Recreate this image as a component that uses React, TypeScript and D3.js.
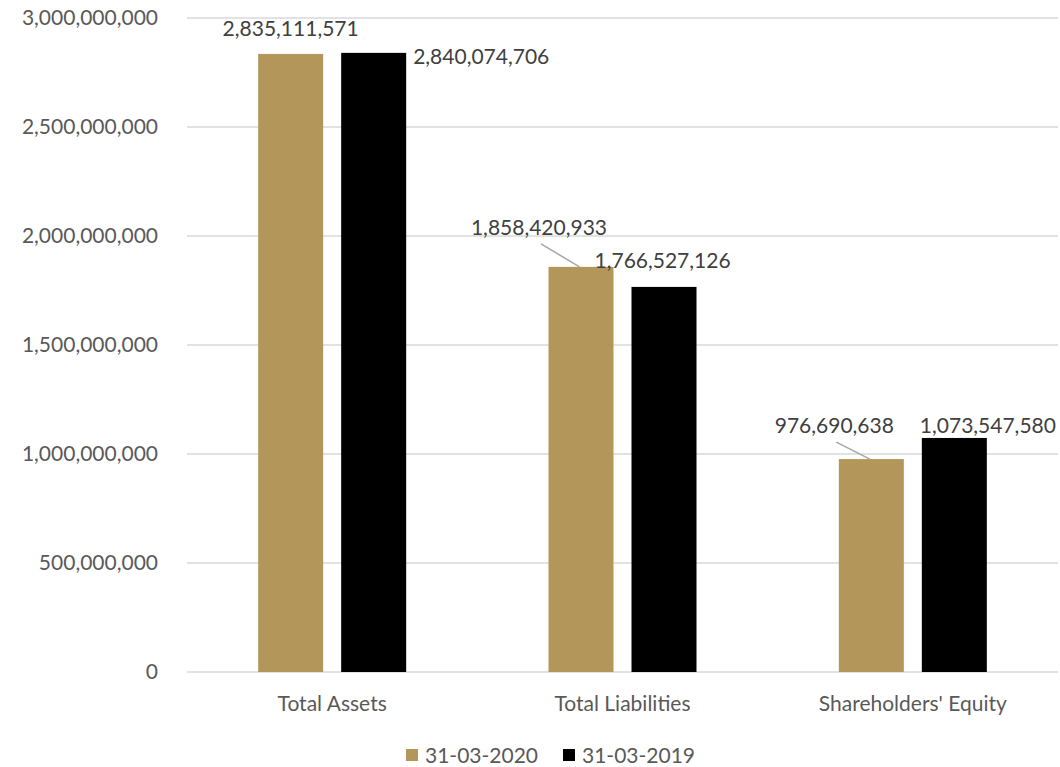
import React from "react";
import * as d3 from "d3";

const categories = ["Total Assets", "Total Liabilities", "Shareholders' Equity"];
const series = ["31-03-2020", "31-03-2019"];
const values2020 = [2835111571, 1858420933, 976690638];
const values2019 = [2840074706, 1766527126, 1073547580];
const yTicks = [0, 500000000, 1000000000, 1500000000, 2000000000, 2500000000, 3000000000];

const colors = ["#B3975A", "#000000"];
const textColor = "#595959";
const font = "Lato, 'Open Sans', sans-serif";
const fs = 21;

// label placement (baseline offsets in px relative to bar top / bar edges), mimicking manual Excel placements
const labelPlacement2020 = [
  { dx: 0, dy: -18, leader: false },
  { dx: -42, dy: -32, leader: true },
  { dx: -37, dy: -26, leader: true },
];
const labelPlacement2019 = [
  { dx: 72, dy: 11 },
  { dx: -37, dy: -19 },
  { dx: -2, dy: -5 },
];

export default function App() {
  const width = 1060;
  const height = 767;
  const left = 187;
  const right = 1058;
  const top = 18;
  const bottom = 672;

  const x = d3.scaleBand().domain(categories).range([left, right]).paddingInner(0).paddingOuter(0);
  const y = d3.scaleLinear().domain([0, 3000000000]).range([bottom, top]);
  const barW = 65;
  const gap = 18;
  const fmt = d3.format(",");

  return (
    <svg width={width} height={height} style={{ display: "block", position: "absolute", left: 0, top: 0 }}>
      <rect width={width} height={height} fill="#fff" />
      {yTicks.map((t) => (
        <g key={t}>
          <line x1={left} x2={right} y1={y(t)} y2={y(t)} stroke="#D9D9D9" strokeWidth={1.5} />
          <text x={158} y={y(t)} dy="0.35em" textAnchor="end" fontFamily={font} fontSize={fs} fill={textColor}>
            {fmt(t)}
          </text>
        </g>
      ))}
      {categories.map((c, i) => {
        const cx = (x(c) as number) + x.bandwidth() / 2;
        const x0 = cx - gap / 2 - barW;
        const x1 = cx + gap / 2;
        const y0 = y(values2020[i]);
        const y1 = y(values2019[i]);
        const p0 = labelPlacement2020[i];
        const p1 = labelPlacement2019[i];
        const lx0 = x0 + barW / 2 + p0.dx;
        const ly0 = y0 + p0.dy;
        return (
          <g key={c}>
            <rect x={x0} y={y0} width={barW} height={bottom - y0} fill={colors[0]} />
            <rect x={x1} y={y1} width={barW} height={bottom - y1} fill={colors[1]} />
            {p0.leader && (
              <line x1={lx0 + 2} y1={ly0 + 9} x2={x0 + 31} y2={y0} stroke="#A6A6A6" strokeWidth={1.5} />
            )}
            <text x={lx0} y={ly0} textAnchor="middle" fontFamily={font} fontSize={fs} fill="#404040">
              {fmt(values2020[i])}
            </text>
            <text x={x1 + p1.dx} y={y1 + p1.dy} textAnchor="start" fontFamily={font} fontSize={fs} fill="#404040">
              {fmt(values2019[i])}
            </text>
            <text x={cx} y={711} textAnchor="middle" fontFamily={font} fontSize={fs} fill={textColor}>
              {c}
            </text>
          </g>
        );
      })}
      {series.map((s, i) => {
        const lx = 406 + i * 157;
        return (
          <g key={s}>
            <rect x={lx} y={749} width={12} height={12} fill={colors[i]} />
            <text x={lx + 19} y={763} fontFamily={font} fontSize={fs} fill={textColor}>
              {s}
            </text>
          </g>
        );
      })}
    </svg>
  );
}
